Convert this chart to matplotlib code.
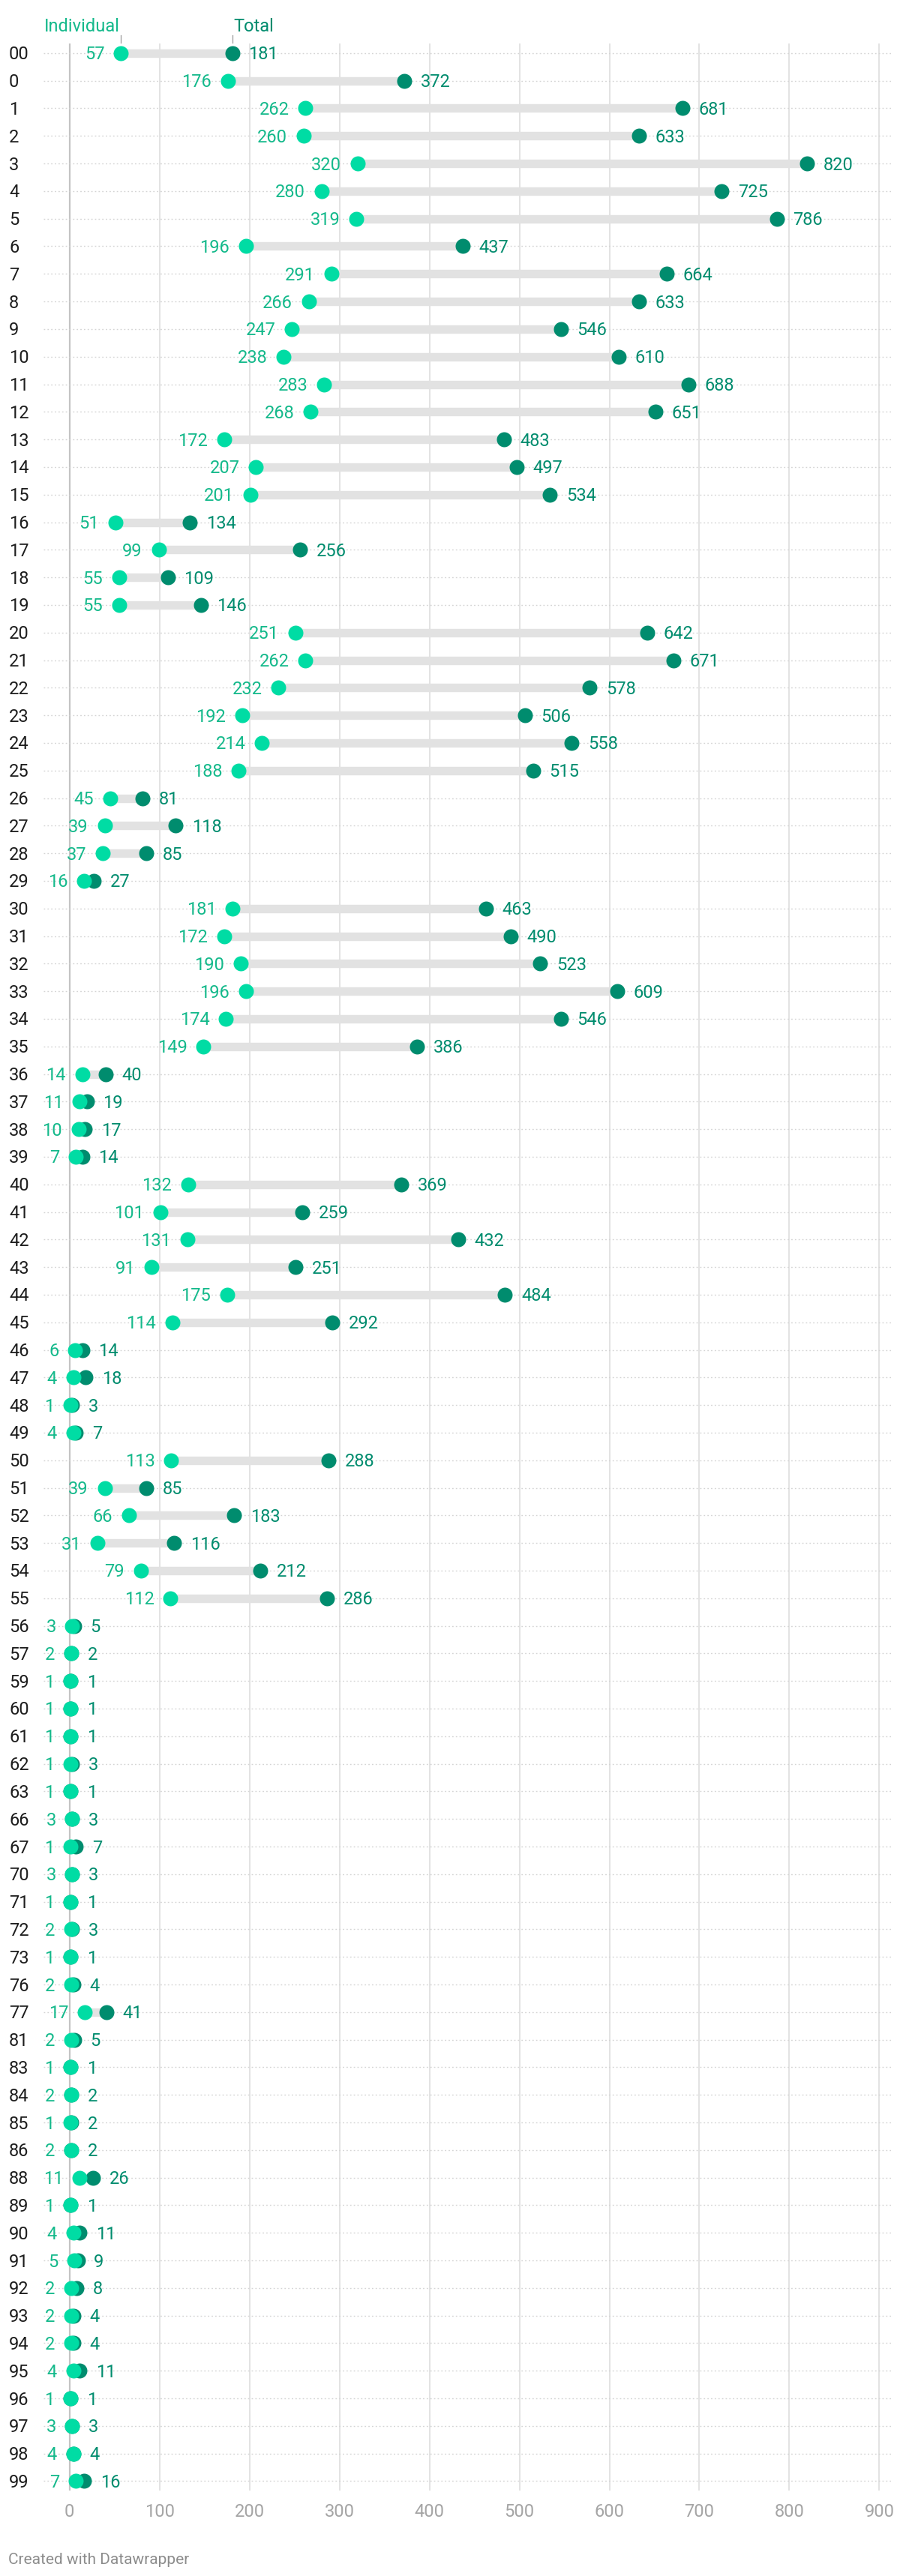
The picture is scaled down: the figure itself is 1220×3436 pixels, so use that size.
import matplotlib.pyplot as plt
from matplotlib import transforms
import numpy as np

plt.rcParams['font.family'] = ['Roboto', 'DejaVu Sans']

# data
categories = ['00', '0', '1', '2', '3', '4', '5', '6', '7', '8', '9', '10',
              '11', '12', '13', '14', '15', '16', '17', '18', '19', '20',
              '21', '22', '23', '24', '25', '26', '27', '28', '29', '30',
              '31', '32', '33', '34', '35', '36', '37', '38', '39', '40',
              '41', '42', '43', '44', '45', '46', '47', '48', '49', '50',
              '51', '52', '53', '54', '55', '56', '57', '59', '60', '61',
              '62', '63', '66', '67', '70', '71', '72', '73', '76', '77',
              '81', '83', '84', '85', '86', '88', '89', '90', '91', '92',
              '93', '94', '95', '96', '97', '98', '99']
individual = [57, 176, 262, 260, 320, 280, 319, 196, 291, 266, 247, 238,
              283, 268, 172, 207, 201, 51, 99, 55, 55, 251,
              262, 232, 192, 214, 188, 45, 39, 37, 16, 181,
              172, 190, 196, 174, 149, 14, 11, 10, 7, 132,
              101, 131, 91, 175, 114, 6, 4, 1, 4, 113,
              39, 66, 31, 79, 112, 3, 2, 1, 1, 1,
              1, 1, 3, 1, 3, 1, 2, 1, 2, 17,
              2, 1, 2, 1, 2, 11, 1, 4, 5, 2,
              2, 2, 4, 1, 3, 4, 7]
total = [181, 372, 681, 633, 820, 725, 786, 437, 664, 633, 546, 610,
         688, 651, 483, 497, 534, 134, 256, 109, 146, 642,
         671, 578, 506, 558, 515, 81, 118, 85, 27, 463,
         490, 523, 609, 546, 386, 40, 19, 17, 14, 369,
         259, 432, 251, 484, 292, 14, 18, 3, 7, 288,
         85, 183, 116, 212, 286, 5, 2, 1, 1, 1,
         3, 1, 3, 7, 3, 1, 3, 1, 4, 41,
         5, 1, 2, 2, 2, 26, 1, 11, 9, 8,
         4, 4, 11, 1, 3, 4, 16]
xticks = [0, 100, 200, 300, 400, 500, 600, 700, 800, 900]

# colors
c_ind = '#00dca4'
c_ind_txt = '#14b98b'
c_tot = '#008c6e'
c_bar = '#e2e2e2'

W, H = 1220, 3436
fig = plt.figure(figsize=(W / 100, H / 100), dpi=100)
ax = fig.add_axes([57.6 / W, 1 - 3322 / H, (1188 - 57.6) / W, (3322 - 58) / H])

n = len(categories)
y = np.arange(n)
ind = np.array(individual)
tot = np.array(total)

ax.set_xlim(-29.3, 913)
ax.set_ylim(n - 1 + 0.34, -0.35)

# grid
for xt in xticks[1:]:
    ax.axvline(xt, color='#e3e3e3', lw=1.5, zorder=0)
ax.axvline(0, color='#c4c4c4', lw=1.6, zorder=0.5)
ax.hlines(y, -29.3, 913, colors='#d4d4d4', lw=1.0, linestyles=(0, (1.3, 2.2)), zorder=1)

# bars and dots
ax.hlines(y, ind, tot, colors=c_bar, lw=8.2, zorder=2, capstyle='butt')
ax.plot(tot, y, 'o', ms=14.4, mew=0, color=c_tot, zorder=3, ls='none')
ax.plot(ind, y, 'o', ms=14.4, mew=0, color=c_ind, zorder=4, ls='none')

for yi, a, b in zip(y, ind, tot):
    ax.annotate(str(a), (a, yi), xytext=(-15.6, -6.1), textcoords='offset points',
                ha='right', va='baseline', fontsize=17, color=c_ind_txt, zorder=5)
    ax.annotate(str(b), (b, yi), xytext=(15.6, -6.1), textcoords='offset points',
                ha='left', va='baseline', fontsize=17, color=c_tot, zorder=5)

# row labels
trans = transforms.blended_transform_factory(fig.transFigure, ax.transData)
for yi, cat in zip(y, categories):
    ax.annotate(cat, (12 / W, yi), xycoords=trans, xytext=(0, -6.1),
                textcoords='offset points', ha='left', va='baseline',
                fontsize=17, color='#1d1d1d', annotation_clip=False)

# x axis
ax.set_xticks(xticks)
ax.set_xticklabels([str(v) for v in xticks])
ax.tick_params(axis='x', length=0, pad=12.5, labelsize=17, labelcolor='#a5a5a5')
ax.set_yticks([])
for s in ax.spines.values():
    s.set_visible(False)

# header labels
tx = transforms.blended_transform_factory(ax.transData, fig.transFigure)
ax.text(ind[0] - 1, 1 - 41.7 / H, 'Individual', transform=tx, ha='right',
        va='baseline', fontsize=17, color=c_ind_txt)
ax.text(tot[0] + 1, 1 - 41.7 / H, 'Total', transform=tx, ha='left',
        va='baseline', fontsize=17, color=c_tot)
for v in (ind[0], tot[0]):
    ax.plot([v, v], [1 - 46.7 / H, 1 - 57.3 / H], transform=tx, color='#999999',
            lw=0.9, clip_on=False)

fig.text(11 / W, 1 - 3420 / H, 'Created with Datawrapper', ha='left', va='baseline',
         fontsize=15, color='#8c8c8c')

fig.savefig('out.png', dpi=100)
